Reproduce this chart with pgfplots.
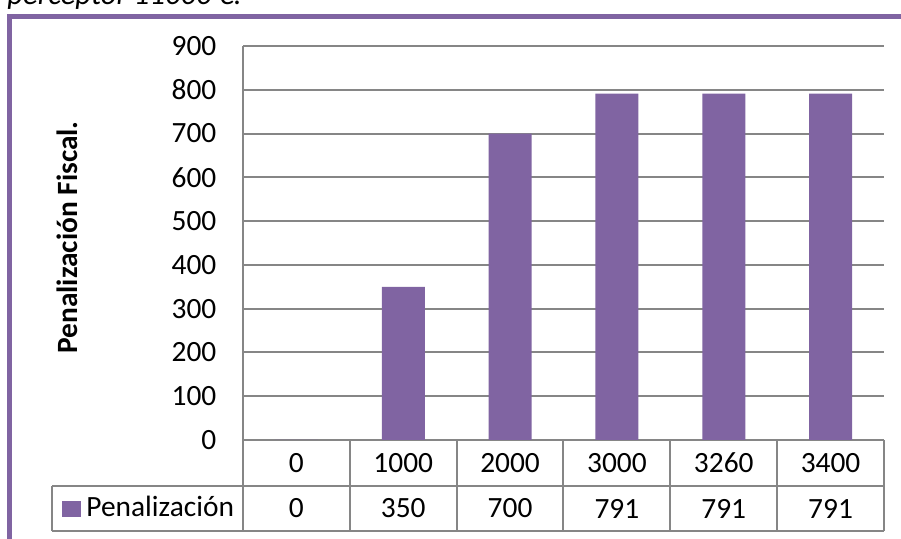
\documentclass[border=0pt]{standalone}
\usepackage{fontspec}
\setmainfont{Carlito}
\usepackage{pgfplots}
\usepackage{pgfplotstable}
\pgfplotsset{compat=1.18}

\definecolor{barpurple}{RGB}{128,100,162}
\definecolor{gridgray}{RGB}{134,134,134}
\newcommand\lbl{\fontsize{14.7}{17}\selectfont}
\newcommand\ttl{\fontsize{15.3}{18}\selectfont}

% renta adicional vs. penalizacion fiscal
\pgfplotstableread{
idx renta pen
0   0     0
1   1000  350
2   2000  700
3   3000  791
4   3260  791
5   3400  791
}\datatable

\begin{document}
\begin{tikzpicture}
\begin{axis}[
  at={(121.5pt,-220pt)}, anchor=south west,
  scale only axis, width=320.5pt, height=197pt,
  xmin=-0.5, xmax=5.5, ymin=0, ymax=900,
  ytick={0,100,...,900},
  xtick={0,...,5}, xticklabels={0,1000,2000,3000,3260,3400},
  axis lines*=left,
  axis line style={draw=gridgray, line width=1pt, -},
  ymajorgrids, major grid style={draw=gridgray, line width=1pt},
  major tick length=0pt,
  tick label style={font=\lbl},
  /pgf/number format/assume math mode=true,
  yticklabel style={xshift=-9.8pt},
  xticklabel style={anchor=center, yshift=-11.5pt},
  clip=false,
]
\addplot[ybar, bar width=21.5pt, bar shift=0pt, fill=barpurple, draw=none]
  table[x=idx, y=pen] {\datatable};
% value row of the data table
\addplot[draw=none, mark=none, nodes near coords, point meta=explicit,
  nodes near coords style={font=\lbl, anchor=center, yshift=-34.25pt, text=black}]
  table[x=idx, y expr=0, meta=pen] {\datatable};
\end{axis}

\begin{scope}[x=0.5pt, y=-0.5pt]
  \begin{scope}[draw=gridgray, line width=1pt]
    \draw (243,440) -- (243,531);
    \foreach \x in {350,457,563,670,777,884} \draw (\x,440) -- (\x,531);
    \draw (52,486) -- (884,486);
    \draw (52,531) -- (884,531);
    \draw (52,486) -- (52,531);
  \end{scope}
  \fill[barpurple] (62,501) rectangle (81,517);
  \node[anchor=base west, inner sep=0pt, font=\lbl] at (86,517) {Penalización};
  \node[rotate=90, anchor=base, inner sep=0pt, font=\lbl\bfseries] at (77,237.5) {Penalización Fiscal.};
  \node[anchor=base west, inner sep=0pt, font=\ttl\itshape] at (7,4.5) {perceptor 11000 €.};
  \draw[barpurple, line width=2.5pt, line join=miter] (9.8,560) -- (9.8,16.7) -- (920,16.7);
  \pgfresetboundingbox
  \path[use as bounding box] (0,0) rectangle (901,539);
\end{scope}
\end{tikzpicture}
\end{document}
